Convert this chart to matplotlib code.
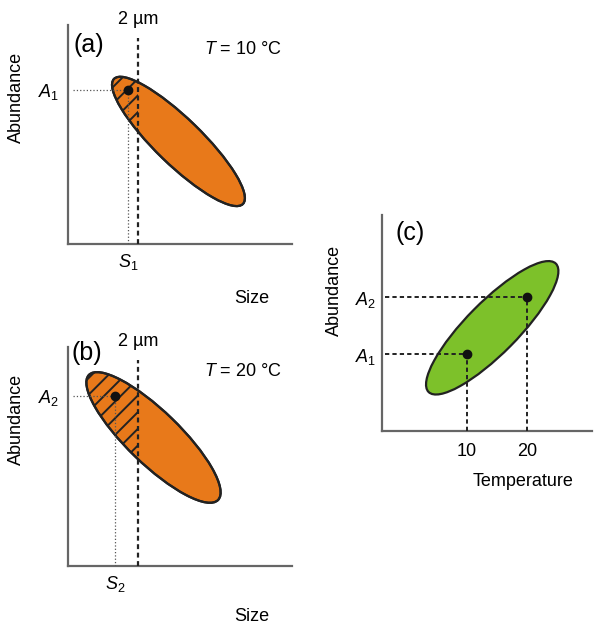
import numpy as np
import matplotlib
matplotlib.use('Agg')
from matplotlib import pyplot as plt
from matplotlib.patches import Ellipse, Rectangle

plt.rcParams['font.family'] = ['Liberation Sans', 'DejaVu Sans']
plt.rcParams['mathtext.fontset'] = 'custom'
plt.rcParams['mathtext.rm'] = 'Liberation Sans'
plt.rcParams['mathtext.it'] = 'Liberation Sans:italic'
plt.rcParams['hatch.linewidth'] = 1.4

# schematic values (arbitrary units)
size_cutoff = 3.18             # the 2 um line on the size axis
size_max, abund_max = 10.18, 9.95

# panel (a), T = 10 C
a_tips = [(2.09, 7.50), (7.95, 1.82)]   # ends of the long axis
a_width = 2.1
a_point = (2.73, 7.00)                  # (S1, A1)

# panel (b), T = 20 C
b_tips = [(0.95, 8.68), (6.82, 3.00)]
b_width = 2.4
b_point = (2.14, 7.73)                  # (S2, A2)

# panel (c), abundance vs temperature
temps = [10, 20]
abund = [12.8, 22.3]
c_tips = [(3.6, 6.5), (24.8, 27.9)]
c_width = 8.6
temp_lim = (-4.17, 30.83)
abund_lim = (0, 36)

ORANGE = '#e8791a'
GREEN = '#7dc12a'
SPINE = '#666666'


def ellipse_from_tips(tips, width, **kw):
    (x0, y0), (x1, y1) = tips
    length = np.hypot(x1 - x0, y1 - y0)
    angle = np.degrees(np.arctan2(y1 - y0, x1 - x0))
    return Ellipse(((x0 + x1) / 2, (y0 + y1) / 2), length, width, angle=angle, **kw)


def style_axis(ax):
    for side in ['top', 'right']:
        ax.spines[side].set_visible(False)
    for side in ['left', 'bottom']:
        ax.spines[side].set_color(SPINE)
        ax.spines[side].set_linewidth(1.6)
    ax.tick_params(length=0, labelsize=13)


def size_panel(ax, tips, width, point, letter, letter_pos, temp, sub, size_y):
    style_axis(ax)
    ax.set_xlim(0, size_max)
    ax.set_ylim(0, abund_max)

    sx, sy = point
    ax.plot([0.23, sx], [sy, sy], color='#555555', ls=':', lw=0.9, zorder=4)
    ax.plot([sx, sx], [0, sy], color='#555555', ls=':', lw=0.9, zorder=4)

    ax.add_patch(ellipse_from_tips(tips, width, facecolor=ORANGE,
                                   edgecolor='#222222', lw=1.6, zorder=2))
    hatch = ellipse_from_tips(tips, width, facecolor='none', edgecolor='#222222',
                              lw=0, hatch='//', zorder=3)
    ax.add_patch(hatch)
    clip = Rectangle((0, 0), size_cutoff, abund_max, transform=ax.transData)
    hatch.set_clip_path(clip)
    ax.add_patch(ellipse_from_tips(tips, width, facecolor='none',
                                   edgecolor='#222222', lw=1.6, zorder=3.5))

    ax.plot([size_cutoff, size_cutoff], [0, 9.36], color='#222222',
            ls=(0, (2.2, 1.6)), lw=1.6, zorder=5)
    ax.plot(sx, sy, 'o', color='#111111', ms=6, zorder=6)

    ax.text(size_cutoff, 10.18, '2 µm', ha='center', va='center', fontsize=13,
            clip_on=False)
    ax.text(*letter_pos, f'({letter})', ha='left', va='center', fontsize=18)
    ax.text(7.95, 8.82, f'$T$ = {temp} °C', ha='center', va='center', fontsize=13)

    ax.set_xticks([sx])
    ax.set_xticklabels([rf'$S_{sub}$'])
    ax.set_yticks([sy])
    ax.set_yticklabels([rf'$A_{sub}$'])
    ax.tick_params(axis='x', pad=6)
    ax.tick_params(axis='y', pad=6)

    ax.set_ylabel('Abundance', fontsize=13)
    ax.yaxis.set_label_coords(-0.192, 0.67)
    ax.set_xlabel('Size', fontsize=13)
    ax.xaxis.set_label_coords(0.82, size_y)


W, H = 596, 625
fig = plt.figure(figsize=(W / 100, H / 100), dpi=100)


def px_axes(left, top, right, bottom):
    return fig.add_axes([left / W, 1 - bottom / H, (right - left) / W, (bottom - top) / H])


ax_a = px_axes(68, 25, 292, 244)
ax_b = px_axes(68, 347, 292, 566)
ax_c = px_axes(382, 215, 592, 431)

size_panel(ax_a, a_tips, a_width, a_point, 'a', (0.23, 9.05), 10, 1, -0.21)
size_panel(ax_b, b_tips, b_width, b_point, 'b', (0.18, 9.68), 20, 2, -0.19)

# panel (c)
style_axis(ax_c)
ax_c.set_xlim(*temp_lim)
ax_c.set_ylim(*abund_lim)
ax_c.add_patch(ellipse_from_tips(c_tips, c_width, facecolor=GREEN,
                                 edgecolor='#222222', lw=1.6, zorder=2))
for t, a in zip(temps, abund):
    ax_c.plot([temp_lim[0] + 0.5, t], [a, a], color='#222222', ls=(0, (2.2, 1.6)),
              lw=1.4, zorder=3)
    ax_c.plot([t, t], [0, a], color='#222222', ls=(0, (2.2, 1.6)), lw=1.4, zorder=3)
ax_c.plot(temps, abund, 'o', color='#111111', ms=6, ls='none', zorder=4)
ax_c.text(-2.0, 33.0, '(c)', ha='left', va='center', fontsize=18)
ax_c.set_xticks(temps)
ax_c.set_xticklabels([str(t) for t in temps])
ax_c.set_yticks(abund)
ax_c.set_yticklabels([r'$A_1$', r'$A_2$'])
ax_c.tick_params(axis='x', pad=9)
ax_c.tick_params(axis='y', pad=4)
ax_c.set_ylabel('Abundance', fontsize=13)
ax_c.yaxis.set_label_coords(-0.186, 0.65)
ax_c.set_xlabel('Temperature', fontsize=13)
ax_c.xaxis.set_label_coords(0.67, -0.194)

fig.savefig('out.png', dpi=100)
